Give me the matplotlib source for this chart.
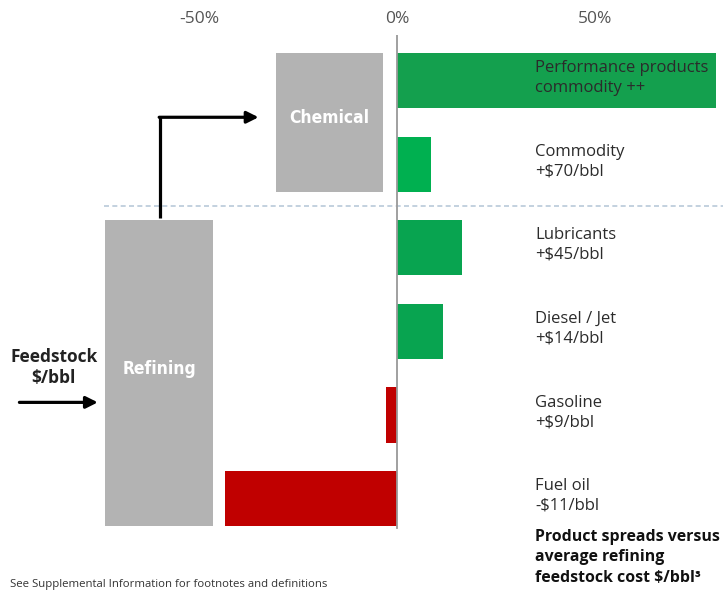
import numpy as np
import matplotlib.pyplot as plt

plt.rcParams['font.family'] = ['Open Sans', 'DejaVu Sans']

products = ['Performance products\ncommodity ++', 'Commodity\n+$70/bbl', 'Lubricants\n+$45/bbl',
            'Diesel / Jet\n+$14/bbl', 'Gasoline\n+$9/bbl', 'Fuel oil\n-$11/bbl']
spread_pct = [80.5, 8.6, 16.4, 11.6, -2.8, -43.4]
bar_colors = ['#14a04e', '#00b050', '#08a450', '#08a450', '#c00000', '#c00000']
xticks = [-50, 0, 50]
xticklabels = ['-50%', '0%', '50%']

# segment boxes: (label, first row, last row, left %, right %)
segments = [('Chemical', 0, 1, -30.6, -3.5), ('Refining', 2, 5, -73.7, -46.5)]

W, H = 723, 592
fig = plt.figure(figsize=(W / 100, H / 100), dpi=100)
ax = fig.add_axes([0, 0, 1, (H - 35) / H])

y = np.arange(len(products))
bh = 0.66
ax.barh(y, spread_pct, height=bh, color=bar_colors, zorder=2)

for name, r0, r1, x0, x1 in segments:
    ax.bar((x0 + x1) / 2, (r1 - r0) + bh, width=x1 - x0, bottom=r0 - bh / 2,
           color='#b3b3b3', zorder=2)
    ax.text((x0 + x1) / 2, (r0 + r1) / 2 - 0.05, name, ha='center', va='center', color='white',
            fontsize=12.5, fontweight='bold', family='DejaVu Sans', fontstretch='condensed')

# zero line and separator
ax.plot([0, 0], [-0.55, 5.35], color='#999999', lw=1.3, zorder=3)
ax.plot([-74, 85], [1.5, 1.5], color='#b9c9d9', lw=1.2, ls=(0, (3, 2)), zorder=1)

# labels
for yi, lab in zip(y, products):
    ax.text(34.8, yi - 0.03, lab, ha='left', va='center', fontsize=12, color='#2b2b2b',
            linespacing=1.3, zorder=4)

# refining -> chemical arrow
ax.plot([-59.8, -59.8], [1.645, 0.44], color='black', lw=2.3, solid_capstyle='butt')
ax.annotate('', xy=(-35.0, 0.44), xytext=(-60.1, 0.44),
            arrowprops=dict(arrowstyle='-|>,head_length=0.7,head_width=0.35', color='black', lw=2.3,
                            shrinkA=0, shrinkB=0))
# feedstock arrow
ax.annotate('', xy=(-75.6, 3.85), xytext=(-95.4, 3.85),
            arrowprops=dict(arrowstyle='-|>,head_length=0.7,head_width=0.35', color='black', lw=2.3,
                            shrinkA=0, shrinkB=0))
ax.text(-86.7, 3.43, 'Feedstock\n$/bbl', ha='center', va='center', fontsize=12.5,
        fontweight='bold', color='#222222', linespacing=1.2)

ax.text(34.8, 5.36, 'Product spreads versus\naverage refining\nfeedstock cost $/bbl³',
        ha='left', va='top', fontsize=11.4, fontweight='bold', color='#111111', linespacing=1.37)

ax.set_xlim(-100.3, 82.3)
ax.set_ylim(6.118, -0.544)
ax.xaxis.tick_top()
ax.set_xticks(xticks)
ax.set_xticklabels(xticklabels, fontsize=12.5, color='#555555')
ax.tick_params(axis='x', length=0, pad=5.5)
ax.set_yticks([])
for s in ax.spines.values():
    s.set_visible(False)

fig.text(10 / W, 1 - 584 / H, 'See Supplemental Information for footnotes and definitions',
         fontsize=8.2, color='#333333', va='center')

fig.savefig('out.png', dpi=100)
